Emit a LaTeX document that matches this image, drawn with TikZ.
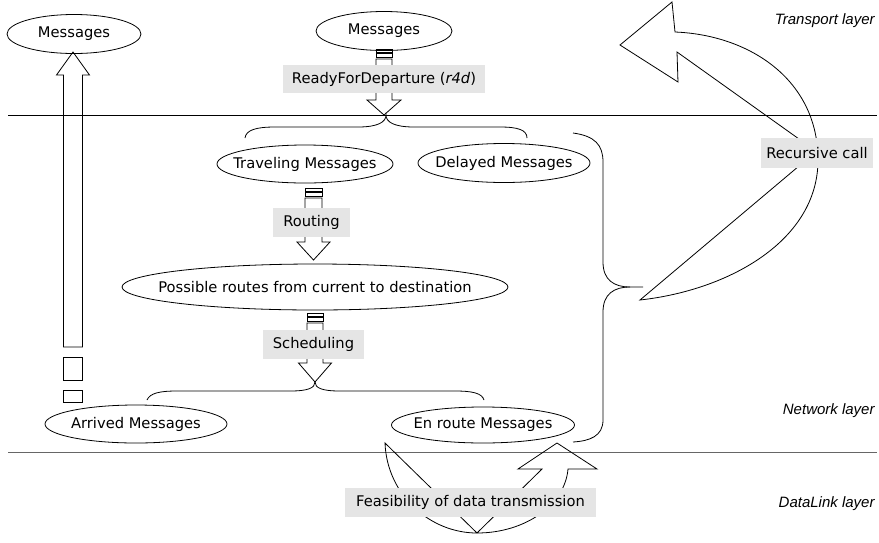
\documentclass[tikz,border=0pt]{standalone}
\usepackage{fontspec}
\setmainfont{DejaVu Sans}
\newfontfamily\layerfont{Liberation Sans}
\usetikzlibrary{shapes.geometric}
\newcommand\mydownarrow[6]{%
  \draw (#1-#5,#2) rectangle (#1+#5,#2+3);
  \draw (#1-#5,#2+4.5) rectangle (#1+#5,#2+8.5);
  \draw (#1-#5,#2+10) -- (#1-#5,#3) -- (#1-#6,#3) -- (#1,#4) -- (#1+#6,#3) -- (#1+#5,#3) -- (#1+#5,#2+10) -- cycle;}
\begin{document}
\begin{tikzpicture}[x=1pt,y=-1pt,line width=0.8pt,line join=miter,
  txt/.style={inner sep=0pt,font=\fontsize{14.7}{17}\selectfont},
  ell/.style={ellipse,draw,inner sep=0pt},
  lbl/.style={fill=black!10,inner sep=0pt,font=\fontsize{14.7}{17}\selectfont},
  layer/.style={anchor=east,inner sep=0pt,font=\layerfont\itshape\fontsize{15}{18}\selectfont}]
\useasboundingbox (0,0) rectangle (879,542);

% layer separators
\coordinate (t1) at (8,115); \coordinate (t2) at (877,115);
\draw (t1) -- (t2);
\coordinate (b1) at (8,452); \coordinate (b2) at (877,452);
\draw[black!60] (b1) -- (b2);

% block arrows (under labels)
\mydownarrow{384}{49}{100}{115}{8}{17}
\mydownarrow{313.5}{188}{242}{260}{8.5}{16.5}
\mydownarrow{315}{313}{363}{382}{8}{16.5}

% left up arrow with broken tail
\draw (63.5,347) -- (63.5,75) -- (56.5,75) -- (73,52) -- (89.5,75) -- (82.5,75) -- (82.5,347) -- cycle;
\draw (63.5,357) rectangle (82.5,380);
\draw (63.5,390) rectangle (82.5,402);

% braces
\draw (245,138) .. controls (246,130) and (256,127) .. (275,127) -- (358,127)
      .. controls (378,127) and (386,122) .. (386,115)
      .. controls (386,122) and (394,127) .. (414,127) -- (500,127)
      .. controls (518,127) and (527,130) .. (527,138);
\draw (147,400) .. controls (150,393) and (160,391) .. (177,391) -- (290,391)
      .. controls (308,391) and (315,388) .. (315,382)
      .. controls (315,388) and (322,391) .. (340,391) -- (455,391)
      .. controls (472,391) and (482,393) .. (484,400);
\draw (573,133) .. controls (595,136) and (603,145) .. (603,162) -- (603,262)
      .. controls (603,280) and (614,287) .. (630,287) -- (643,287);
\draw (630,287) .. controls (614,287) and (603,294) .. (603,312) -- (603,420)
      .. controls (603,436) and (590,441) .. (573,442);

% recursive call curved arrow
\draw (640,300) .. controls (730,290) and (818,240) .. (818,160)
      .. controls (818,80) and (750,35) .. (675,32)
      -- (672,2) -- (620,45) -- (678,82) -- (677,52)
      -- (799,139) .. controls (806,144) and (806,161) .. (799,166) -- cycle;

% feasibility curved arrow
\draw (385,443) .. controls (387,495) and (430,533) .. (477,533)
      .. controls (525,533) and (565,505) .. (568,469)
      -- (597,469) -- (557,443) -- (518,469) -- (542,469)
      -- (477,533) -- cycle;

% ellipses
\node[ell,minimum width=134pt,minimum height=39pt,label={[txt]center:Messages}] (msgL) at (74,34) {};
\node[ell,minimum width=136pt,minimum height=39pt,label={[txt]center:Messages}] (msgT) at (384,31) {};
\node[ell,minimum width=176pt,minimum height=38pt,label={[txt]center:Traveling Messages}] (trav) at (305,164) {};
\node[ell,minimum width=172pt,minimum height=39pt,label={[txt]center:Delayed Messages}] (delay) at (504,163) {};
\node[ell,minimum width=386pt,minimum height=46pt,label={[txt]center:Possible routes from current to destination}] (poss) at (315,287) {};
\node[ell,minimum width=182pt,minimum height=38pt,label={[txt]center:Arrived Messages}] (arrived) at (136,424) {};
\node[ell,minimum width=183pt,minimum height=36pt,label={[txt]center:En route Messages}] (enroute) at (483,425) {};

% labels
\node[lbl,minimum width=202pt,minimum height=28pt] (r4d) at (384,79) {ReadyForDeparture (\textit{r4d})};
\node[lbl,minimum width=77pt,minimum height=29pt] (routing) at (311.5,222.5) {Routing};
\node[lbl,minimum width=101pt,minimum height=29pt] (sched) at (313.5,344.5) {Scheduling};
\node[lbl,minimum width=112pt,minimum height=30pt] (rec) at (817,153) {Recursive call};
\node[lbl,minimum width=251pt,minimum height=29pt] (feas) at (470.5,502.5) {Feasibility of data transmission};

% layer names
\node[layer] (tl) at (875,21) {Transport layer};
\node[layer] (nl) at (875,411) {Network layer};
\node[layer] (dl) at (875,504) {DataLink layer};
\end{tikzpicture}
\end{document}
